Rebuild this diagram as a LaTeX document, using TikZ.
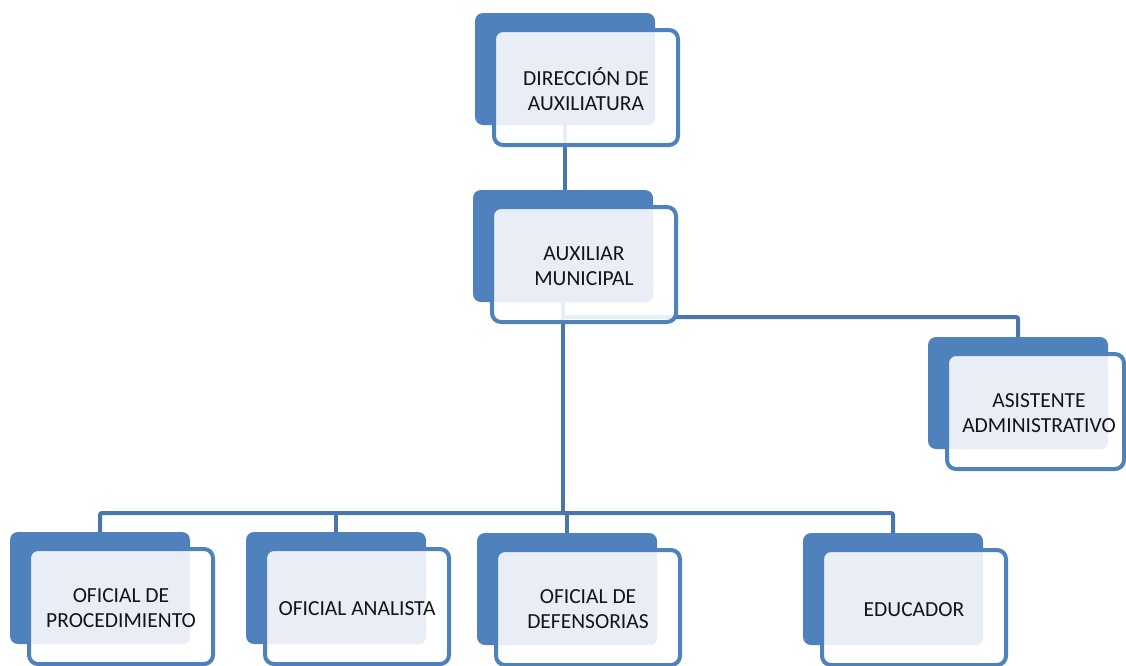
\documentclass[tikz,border=0pt]{standalone}
\usepackage{fontspec}
\setmainfont{Carlito}
\definecolor{boxblue}{HTML}{4F81BD}
\definecolor{facefill}{HTML}{E9EEF6}
\definecolor{linecol}{HTML}{4A76AE}
\definecolor{textcol}{HTML}{141414}
\tikzset{
  backbox/.style={fill=boxblue, rounded corners=8pt, minimum width=180pt, minimum height=112pt, inner sep=0pt, outer sep=0pt},
  outlinebox/.style={draw=boxblue, line width=4pt, fill=white, fill opacity=0.88, rounded corners=9pt},
  facebox/.style={fill=facefill, rounded corners=7pt},
  boxtext/.style={font=\fontsize{21.5}{25}\selectfont, text=textcol, align=center, inner sep=0pt},
  conn/.style={draw=linecol, line width=4pt, rounded corners=2pt},
}
\newcommand\orgunit[5]{%
  \node[backbox, anchor=north west] (#1) at (#2,#3) {};
  \draw[outlinebox] ([shift={(19pt,-17pt)}]#1.north west) rectangle ([shift={(#5pt,-132pt)}]#1.north west);
  \fill[facebox] ([shift={(22pt,-20pt)}]#1.north west) rectangle (#1.south east);
  \node[boxtext] at ([shift={(111pt,-76.5pt)}]#1.north west) {#4};
}
\begin{document}
\begin{tikzpicture}[x=1pt,y=-1pt]
\useasboundingbox (0,0) rectangle (1126,665);
% hidden anchor coordinates for connector layout
\coordinate (hub) at (563,513);
\coordinate (rhub) at (563,317);
% boxes (drawn after connectors via layers)
\pgfdeclarelayer{bg}
\pgfsetlayers{bg,main}
\orgunit{top}{475}{13}{DIRECCIÓN DE\\AUXILIATURA}{203}
\orgunit{aux}{473}{190}{AUXILIAR\\MUNICIPAL}{203}
\orgunit{asis}{928}{337}{ASISTENTE\\ADMINISTRATIVO}{196}
\orgunit{proc}{10}{532}{OFICIAL DE\\PROCEDIMIENTO}{203}
\orgunit{anal}{246}{532}{OFICIAL ANALISTA}{203}
\orgunit{def}{477}{533}{OFICIAL DE\\DEFENSORIAS}{203}
\orgunit{edu}{803}{533}{EDUCADOR}{203}
\begin{pgfonlayer}{bg}
\draw[conn] (top.south) -- (top.south |- aux.north);
\draw[conn] (aux.south -| hub) -- (hub);
\draw[conn] (rhub) -| (asis.north);
\draw[conn] (proc.north) |- (hub) -| (edu.north);
\draw[conn] (anal.north) -- (anal.north |- hub);
\draw[conn] (def.north) -- (def.north |- hub);
\end{pgfonlayer}
\end{tikzpicture}
\end{document}
